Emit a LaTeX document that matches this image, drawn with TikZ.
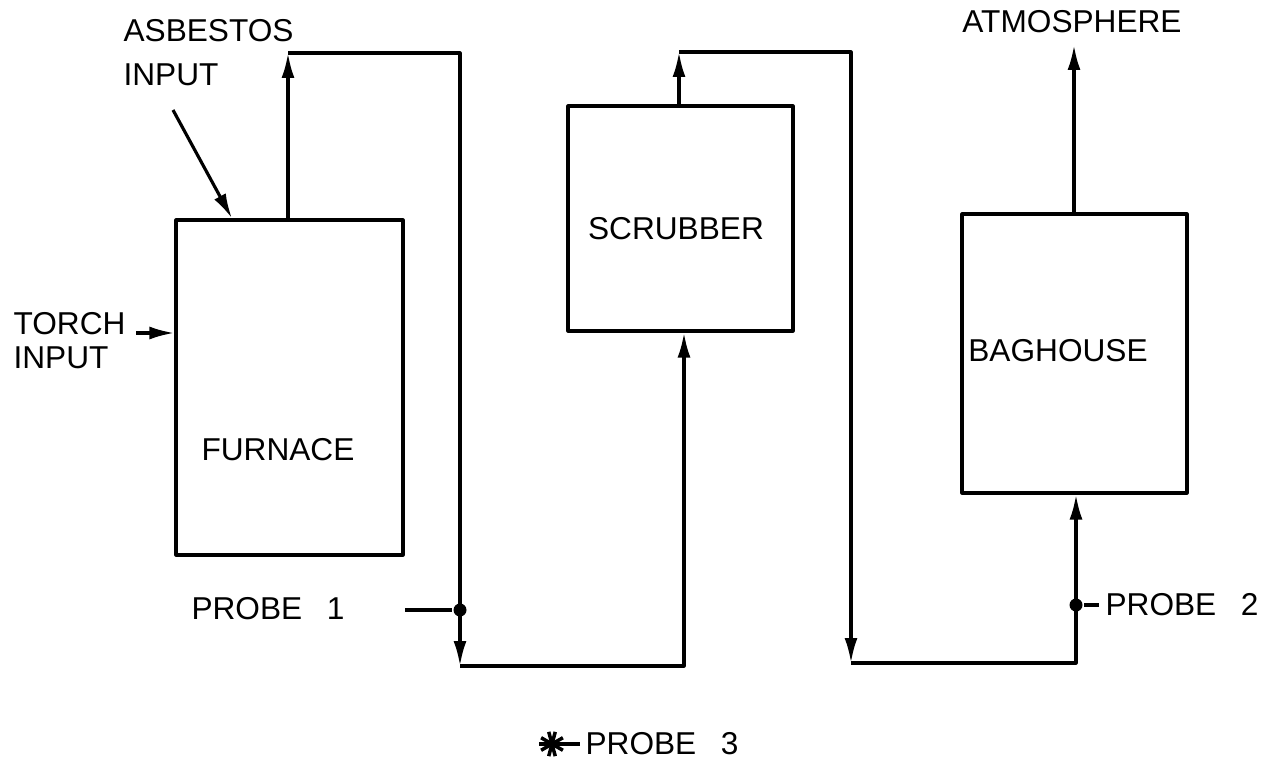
\documentclass[tikz,border=0pt]{standalone}
\usepackage{fontspec}
\setmainfont{Liberation Sans}
\usetikzlibrary{arrows.meta}
\begin{document}
\begin{tikzpicture}[x=0.02cm,y=-0.02cm,line width=1.8pt,line join=round,
  unit/.style={draw,inner sep=0pt},
  lbl/.style={inner sep=0pt,font=\fontsize{18pt}{19pt}\selectfont},
  flow/.style={-{Latex[length=5mm,width=2.6mm]}},
  dot/.style={circle,fill=black,inner sep=0pt,minimum size=0.26cm},
  asterisk/.style={circle,inner sep=0pt,minimum size=0.44cm}]
\useasboundingbox (0,0) rectangle (1265,767);

% units
\node[unit,minimum width=4.54cm,minimum height=6.7cm] (furnace) at (289.5,387.5) {};
\node[unit,minimum width=4.5cm,minimum height=4.5cm] (scrubber) at (680.5,218.5) {};
\node[unit,minimum width=4.5cm,minimum height=5.58cm] (baghouse) at (1074.5,353.5) {};
\node[lbl] (furnacelbl) at (278,450) {FURNACE};
\node[lbl] (scrubberlbl) at (676,229) {SCRUBBER};
\node[lbl] (baghouselbl) at (1058,351) {BAGHOUSE};

% inputs
\node[lbl,align=left,anchor=north west,font=\fontsize{18pt}{19pt}\selectfont] (torch) at (12,311) {TORCH\\INPUT};
\node[lbl,align=left,anchor=north west,font=\fontsize{18pt}{25pt}\selectfont] (asbestos) at (122,18) {ASBESTOS\\INPUT};
\coordinate (t0) at (136,333);
\draw[flow] (t0) -- (t0 -| furnace.west);
\coordinate (a0) at (173,110);
\coordinate (a1) at (232,220);
\draw[flow] (a0) -- (a1 |- furnace.north);

% furnace -> scrubber
\coordinate (c1) at (288,53);
\coordinate (c2) at (460,53);
\coordinate (c3) at (460,666);
\coordinate (c4) at (684,666);
\draw[flow] (c1 |- furnace.north) -- (c1);
\draw[flow] (c1) -- (c2) -- (c3);
\draw[flow] (c3) -- (c4) -- (c4 |- scrubber.south);

% scrubber -> baghouse
\coordinate (c5) at (679,52);
\coordinate (c6) at (851,52);
\coordinate (c7) at (851,663);
\coordinate (c8) at (1076,663);
\draw[flow] (c5 |- scrubber.north) -- (c5);
\draw[flow] (c5) -- (c6) -- (c7);
\draw[flow] (c7) -- (c8) -- (c8 |- baghouse.south);

% atmosphere
\coordinate (c9) at (1074,45);
\draw[flow] (c9 |- baghouse.north) -- (c9);
\node[lbl] (atm) at (1072,22) {ATMOSPHERE};

% probes
\node[dot] (p1) at (460,610) {};
\coordinate (p1s) at (405,610);
\draw (p1s) -- (p1);
\node[lbl] (probe1) at (268,609) {PROBE\hspace{0.5em} 1};

\node[dot] (p2) at (1076,605) {};
\coordinate (p2e) at (1099,605);
\draw (p2) -- (p2e);
\node[lbl,anchor=west] (probe2) at (1104,605) {PROBE\hspace{0.5em} 2};

\node[asterisk] (p3) at (552,744) {};
\draw[line width=2pt] (p3.150) -- (p3.330);
\draw[line width=2pt] (p3.30) -- (p3.210);
\draw[line width=2pt] (p3.75) -- (p3.255);
\draw[line width=2pt] (p3.105) -- (p3.285);
\draw[line width=2pt] (p3.west) -- (p3.east);
\coordinate (p3e) at (580,744);
\draw (p3.east) -- (p3e);
\node[lbl,anchor=west] (probe3) at (584,744) {PROBE\hspace{0.5em} 3};
\end{tikzpicture}
\end{document}
